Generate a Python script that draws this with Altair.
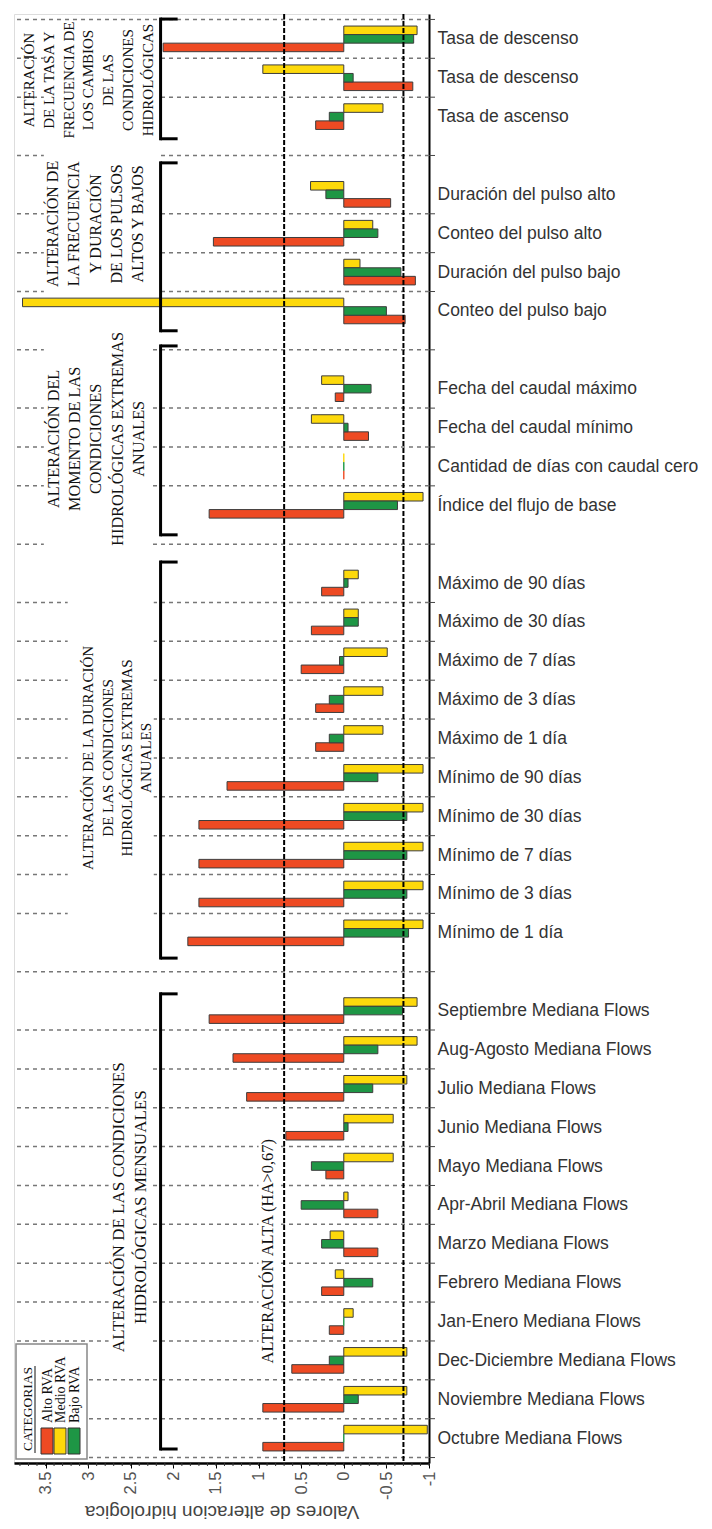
import altair as alt
import pandas as pd

# ---------------- data ----------------
g1_cats = ["Tasa de descenso", "Tasa de descenso", "Tasa de ascenso"]
g1_alto = [2.12, -0.81, 0.33]
g1_medio = [-0.86, 0.95, -0.46]
g1_bajo = [-0.82, -0.11, 0.17]

g2_cats = ["Duración del pulso alto", "Conteo del pulso alto",
           "Duración del pulso bajo", "Conteo del pulso bajo"]
g2_alto = [-0.55, 1.53, -0.84, -0.72]
g2_medio = [0.39, -0.34, -0.19, 3.77]
g2_bajo = [0.21, -0.40, -0.67, -0.50]

g3_cats = ["Fecha del caudal máximo", "Fecha del caudal mínimo",
           "Cantidad de días con caudal cero", "Índice del flujo de base"]
g3_alto = [0.10, -0.29, 0.0, 1.58]
g3_medio = [0.26, 0.38, 0.0, -0.93]
g3_bajo = [-0.32, -0.05, 0.0, -0.63]

g4_cats = ["Máximo de 90 días", "Máximo de 30 días", "Máximo de 7 días",
           "Máximo de 3 días", "Máximo de 1 día", "Mínimo de 90 días",
           "Mínimo de 30 días", "Mínimo de 7 días", "Mínimo de 3 días",
           "Mínimo de 1 día"]
g4_alto = [0.26, 0.38, 0.50, 0.33, 0.33, 1.37, 1.70, 1.70, 1.70, 1.83]
g4_medio = [-0.17, -0.17, -0.51, -0.46, -0.46, -0.93, -0.93, -0.93, -0.93, -0.93]
g4_bajo = [-0.05, -0.17, 0.05, 0.17, 0.17, -0.40, -0.74, -0.74, -0.74, -0.76]

g5_cats = ["Septiembre Mediana Flows", "Aug-Agosto Mediana Flows",
           "Julio Mediana Flows", "Junio Mediana Flows", "Mayo Mediana Flows",
           "Apr-Abril Mediana Flows", "Marzo Mediana Flows",
           "Febrero Mediana Flows", "Jan-Enero Mediana Flows",
           "Dec-Diciembre Mediana Flows", "Noviembre Mediana Flows",
           "Octubre Mediana Flows"]
g5_alto = [1.58, 1.30, 1.14, 0.68, 0.21, -0.40, -0.40, 0.26, 0.17, 0.61, 0.95, 0.95]
g5_medio = [-0.86, -0.86, -0.74, -0.58, -0.58, -0.05, 0.16, 0.10, -0.11, -0.74, -0.74, -0.98]
g5_bajo = [-0.69, -0.40, -0.34, -0.05, 0.38, 0.50, 0.26, -0.34, 0.0, 0.17, -0.17, 0.0]

group_titles = [
    ["ALTERACIÓN", "DE LA TASA Y", "FRECUENCIA DE", "LOS CAMBIOS", "DE LAS",
     "CONDICIONES", "HIDROLÓGICAS"],
    ["ALTERACIÓN DE", "LA FRECUENCIA", "Y DURACIÓN", "DE LOS PULSOS",
     "ALTOS Y BAJOS"],
    ["ALTERACIÓN DEL", "MOMENTO DE LAS", "CONDICIONES",
     "HIDROLÓGICAS EXTREMAS", "ANUALES"],
    ["ALTERACIÓN DE LA DURACIÓN", "DE LAS CONDICIONES",
     "HIDROLÓGICAS EXTREMAS", "ANUALES"],
    ["ALTERACIÓN DE LAS CONDICIONES", "HIDROLÓGICAS MENSUALES"],
]

series = ["Alto RVA", "Medio RVA", "Bajo RVA"]
colors = ["#EE4A23", "#FDD90B", "#1E9645"]
threshold_lines = [0.7, -0.7]
x_ticks = [-1, -0.5, 0, 0.5, 1, 1.5, 2, 2.5, 3, 3.5]

groups = [
    (g1_cats, g1_alto, g1_medio, g1_bajo),
    (g2_cats, g2_alto, g2_medio, g2_bajo),
    (g3_cats, g3_alto, g3_medio, g3_bajo),
    (g4_cats, g4_alto, g4_medio, g4_bajo),
    (g5_cats, g5_alto, g5_medio, g5_bajo),
]

# ---------------- layout helpers ----------------
W, H = 415, 1449
XDOM = [-1.0, 3.87]
YDOM = [-0.64, 36.64]
BAR_OFF = {"Medio RVA": -0.22, "Bajo RVA": 0.0, "Alto RVA": 0.22}
HALF = 0.11

rows = []
labels = []
labeled = []
slot = 0
for gi, (cats, a, m, b) in enumerate(groups):
    for i, c in enumerate(cats):
        labels.append(c)
        labeled.append(slot)
        for s, vals in zip(series, (a, m, b)):
            rows.append({"cat": c, "serie": s, "v": vals[i], "zero": 0.0,
                         "y0": slot + BAR_OFF[s] - HALF,
                         "y1": slot + BAR_OFF[s] + HALF})
        slot += 1
    if gi < len(groups) - 1:
        labels.append("")
        slot += 1
bars = pd.DataFrame(rows)

grid_y = [labeled[0] - 0.5] + [(p + q) / 2 for p, q in zip(labeled[:-1], labeled[1:])] + [labeled[-1] + 0.5]
grid = pd.DataFrame({"gy": grid_y})
minor = pd.DataFrame({"m": [round(-1 + 0.1 * k, 1) for k in range(49)]})

label_expr = "[" + ",".join("'" + s + "'" for s in labels) + "][datum.value]"

xs = alt.Scale(domain=XDOM, reverse=True, nice=False, zero=False)
ys = alt.Scale(domain=YDOM, reverse=True, nice=False, zero=False)
color_scale = alt.Scale(domain=series, range=colors)

XAX = alt.Axis(
    values=x_ticks, labelExpr="toString(datum.value)", labelAngle=270,
    labelFont="Liberation Sans", labelFontSize=16.5, labelColor="#555",
    labelPadding=3, labelFlush=False, ticks=True, tickColor="#000", tickSize=5,
    domainColor="#000", domainWidth=2.5, grid=False,
    title="Valores de alteracion hidrologica", titleAngle=180,
    titleBaseline="bottom",
    titleFont="Liberation Sans", titleFontSize=19, titleFontWeight="normal",
    titleColor="#444", titlePadding=2,
)
YAX = alt.Axis(
    orient="right", values=labeled, labelExpr=label_expr, ticks=False,
    grid=False, domain=True, domainColor="#000", domainWidth=2,
    labelFont="Liberation Sans", labelFontSize=17.5, labelColor="#333",
    labelPadding=8, labelOverlap=False, labelFlush=False, labelBound=False,
    labelLimit=0, title=None,
)


def X(f):
    return alt.X(f, scale=xs, axis=XAX)


def Y(f):
    return alt.Y(f, scale=ys, axis=YAX)


# horizontal dashed grid
grid_layer = alt.Chart(grid).mark_rule(
    color="#777", strokeDash=[4, 4], strokeWidth=1.5
).encode(y=Y("gy:Q"))
# small ticks on the right border at the grid positions
rtick_layer = alt.Chart(grid).mark_rule(color="#444", strokeWidth=1).encode(
    y=Y("gy:Q"), x=alt.value(W), x2=alt.value(W + 6))
# minor ticks under the bottom axis
minor_layer = alt.Chart(minor).mark_rule(color="#333", strokeWidth=1).encode(
    x=X("m:Q"), y=alt.value(H), y2=alt.value(H + 3))

# white boxes behind the group captions
boxes = pd.DataFrame({
    "bx0": [3.52, 3.52, 3.52, 3.24, 2.76, 1.00],
    "bx1": [2.18, 2.18, 2.24, 2.23, 2.24, 0.77],
    "by0": [-0.41, 2.88, 7.21, 13.43, 26.04, 28.05],
    "by1": [2.75, 6.74, 13.23, 23.47, 34.15, 34.33],
})
box_layer = alt.Chart(boxes).mark_rect(fill="white", stroke=None).encode(
    x=X("bx0:Q"), x2="bx1:Q", y=Y("by0:Q"), y2="by1:Q",
)

bar_layer = alt.Chart(bars).mark_rect(strokeWidth=1).encode(
    x=X("v:Q"), x2="zero:Q",
    y=Y("y0:Q"), y2="y1:Q",
    fill=alt.Fill("serie:N", scale=color_scale, legend=None),
    stroke=alt.condition("datum.v == 0",
                         alt.Stroke("serie:N", scale=color_scale, legend=None),
                         alt.value("#3d3d3d")),
)

thr = pd.DataFrame({"t": threshold_lines})
vline_layer = alt.Chart(thr).mark_rule(
    color="#000", strokeDash=[5, 2], strokeWidth=2
).encode(x=X("t:Q"))

# brackets
bracket_spans = [(-0.51, 2.57), (3.19, 7.51), (7.90, 12.76), (13.46, 23.65), (24.57, 36.28)]
br = pd.DataFrame({"top": [s[0] for s in bracket_spans],
                   "bot": [s[1] for s in bracket_spans],
                   "bx": 2.15, "ax": 1.95})
br_v = alt.Chart(br).mark_rule(color="#000", strokeWidth=3, strokeCap="square").encode(
    x=X("bx:Q"), y=Y("top:Q"), y2="bot:Q")
br_t = alt.Chart(br).mark_rule(color="#000", strokeWidth=3).encode(
    x=X("bx:Q"), x2="ax:Q", y=Y("top:Q"))
br_b = alt.Chart(br).mark_rule(color="#000", strokeWidth=3).encode(
    x=X("bx:Q"), x2="ax:Q", y=Y("bot:Q"))

# group captions (rotated); anchor = first text column
caption_pos = [(3.69, 1.06, 15, 19.7), (3.41, 4.76, 16, 21.2), (3.40, 10.29, 16.3, 21.2),
               (3.00, 18.50, 15, 19.4), (2.64, 30.06, 17, 22)]
caption_layers = []
for lines, (cx, cy, fs, lh) in zip(group_titles, caption_pos):
    df = pd.DataFrame({"t": ["\n".join(lines)], "cx": [cx], "cy": [cy]})
    caption_layers.append(alt.Chart(df).mark_text(
        font="Liberation Serif", fontSize=fs, lineHeight=lh, angle=270,
        align="center", baseline="middle", lineBreak="\n", color="#111",
    ).encode(x=X("cx:Q"), y=Y("cy:Q"), text="t:N"))

ha_df = pd.DataFrame({"t": ["ALTERACIÓN ALTA (HA>0,67)"], "cx": [0.895], "cy": [31.19]})
ha_layer = alt.Chart(ha_df).mark_text(
    font="Liberation Serif", fontSize=16.5, angle=270, align="center",
    baseline="middle", color="#111",
).encode(x=X("cx:Q"), y=Y("cy:Q"), text="t:N")

# legend box (annotation)
dummy = pd.DataFrame({"d": [0]})
leg_box = alt.Chart(dummy).mark_rect(fill="white", stroke="#888", strokeWidth=1.5).encode(
    x=alt.value(2), x2=alt.value(73), y=alt.value(1330), y2=alt.value(1445))
leg_title = alt.Chart(dummy).mark_text(
    text="CATEGORIAS", font="Liberation Serif", fontSize=13.5, angle=270,
    align="center", baseline="middle", color="#111",
).encode(x=alt.value(14), y=alt.value(1395))
leg_ul = alt.Chart(dummy).mark_rule(color="#111", strokeWidth=1).encode(
    x=alt.value(21), y=alt.value(1352), y2=alt.value(1439))
leg_layers = [leg_box, leg_title, leg_ul]
for name, col, lx, sx0 in zip(series, colors, [34, 47, 61], [27, 40, 54]):
    leg_layers.append(alt.Chart(dummy).mark_text(
        text=name, font="Liberation Serif", fontSize=14, angle=270,
        align="left", baseline="middle", color="#111",
    ).encode(x=alt.value(lx), y=alt.value(1409)))
    leg_layers.append(alt.Chart(dummy).mark_rect(
        fill=col, stroke="#333", strokeWidth=1
    ).encode(x=alt.value(sx0), x2=alt.value(sx0 + 12), y=alt.value(1414), y2=alt.value(1440)))

chart = alt.layer(
    grid_layer, minor_layer, box_layer, bar_layer, vline_layer, br_v, br_t, br_b,
    *caption_layers, ha_layer, *leg_layers, rtick_layer
).properties(
    width=W, height=H,
    padding={"left": 5, "top": 5, "right": 0, "bottom": 2},
).configure_view(
    stroke="#999", strokeWidth=1.5
).configure(background="white")

chart.save("out.html", embed_options={"renderer": "svg", "actions": False})
